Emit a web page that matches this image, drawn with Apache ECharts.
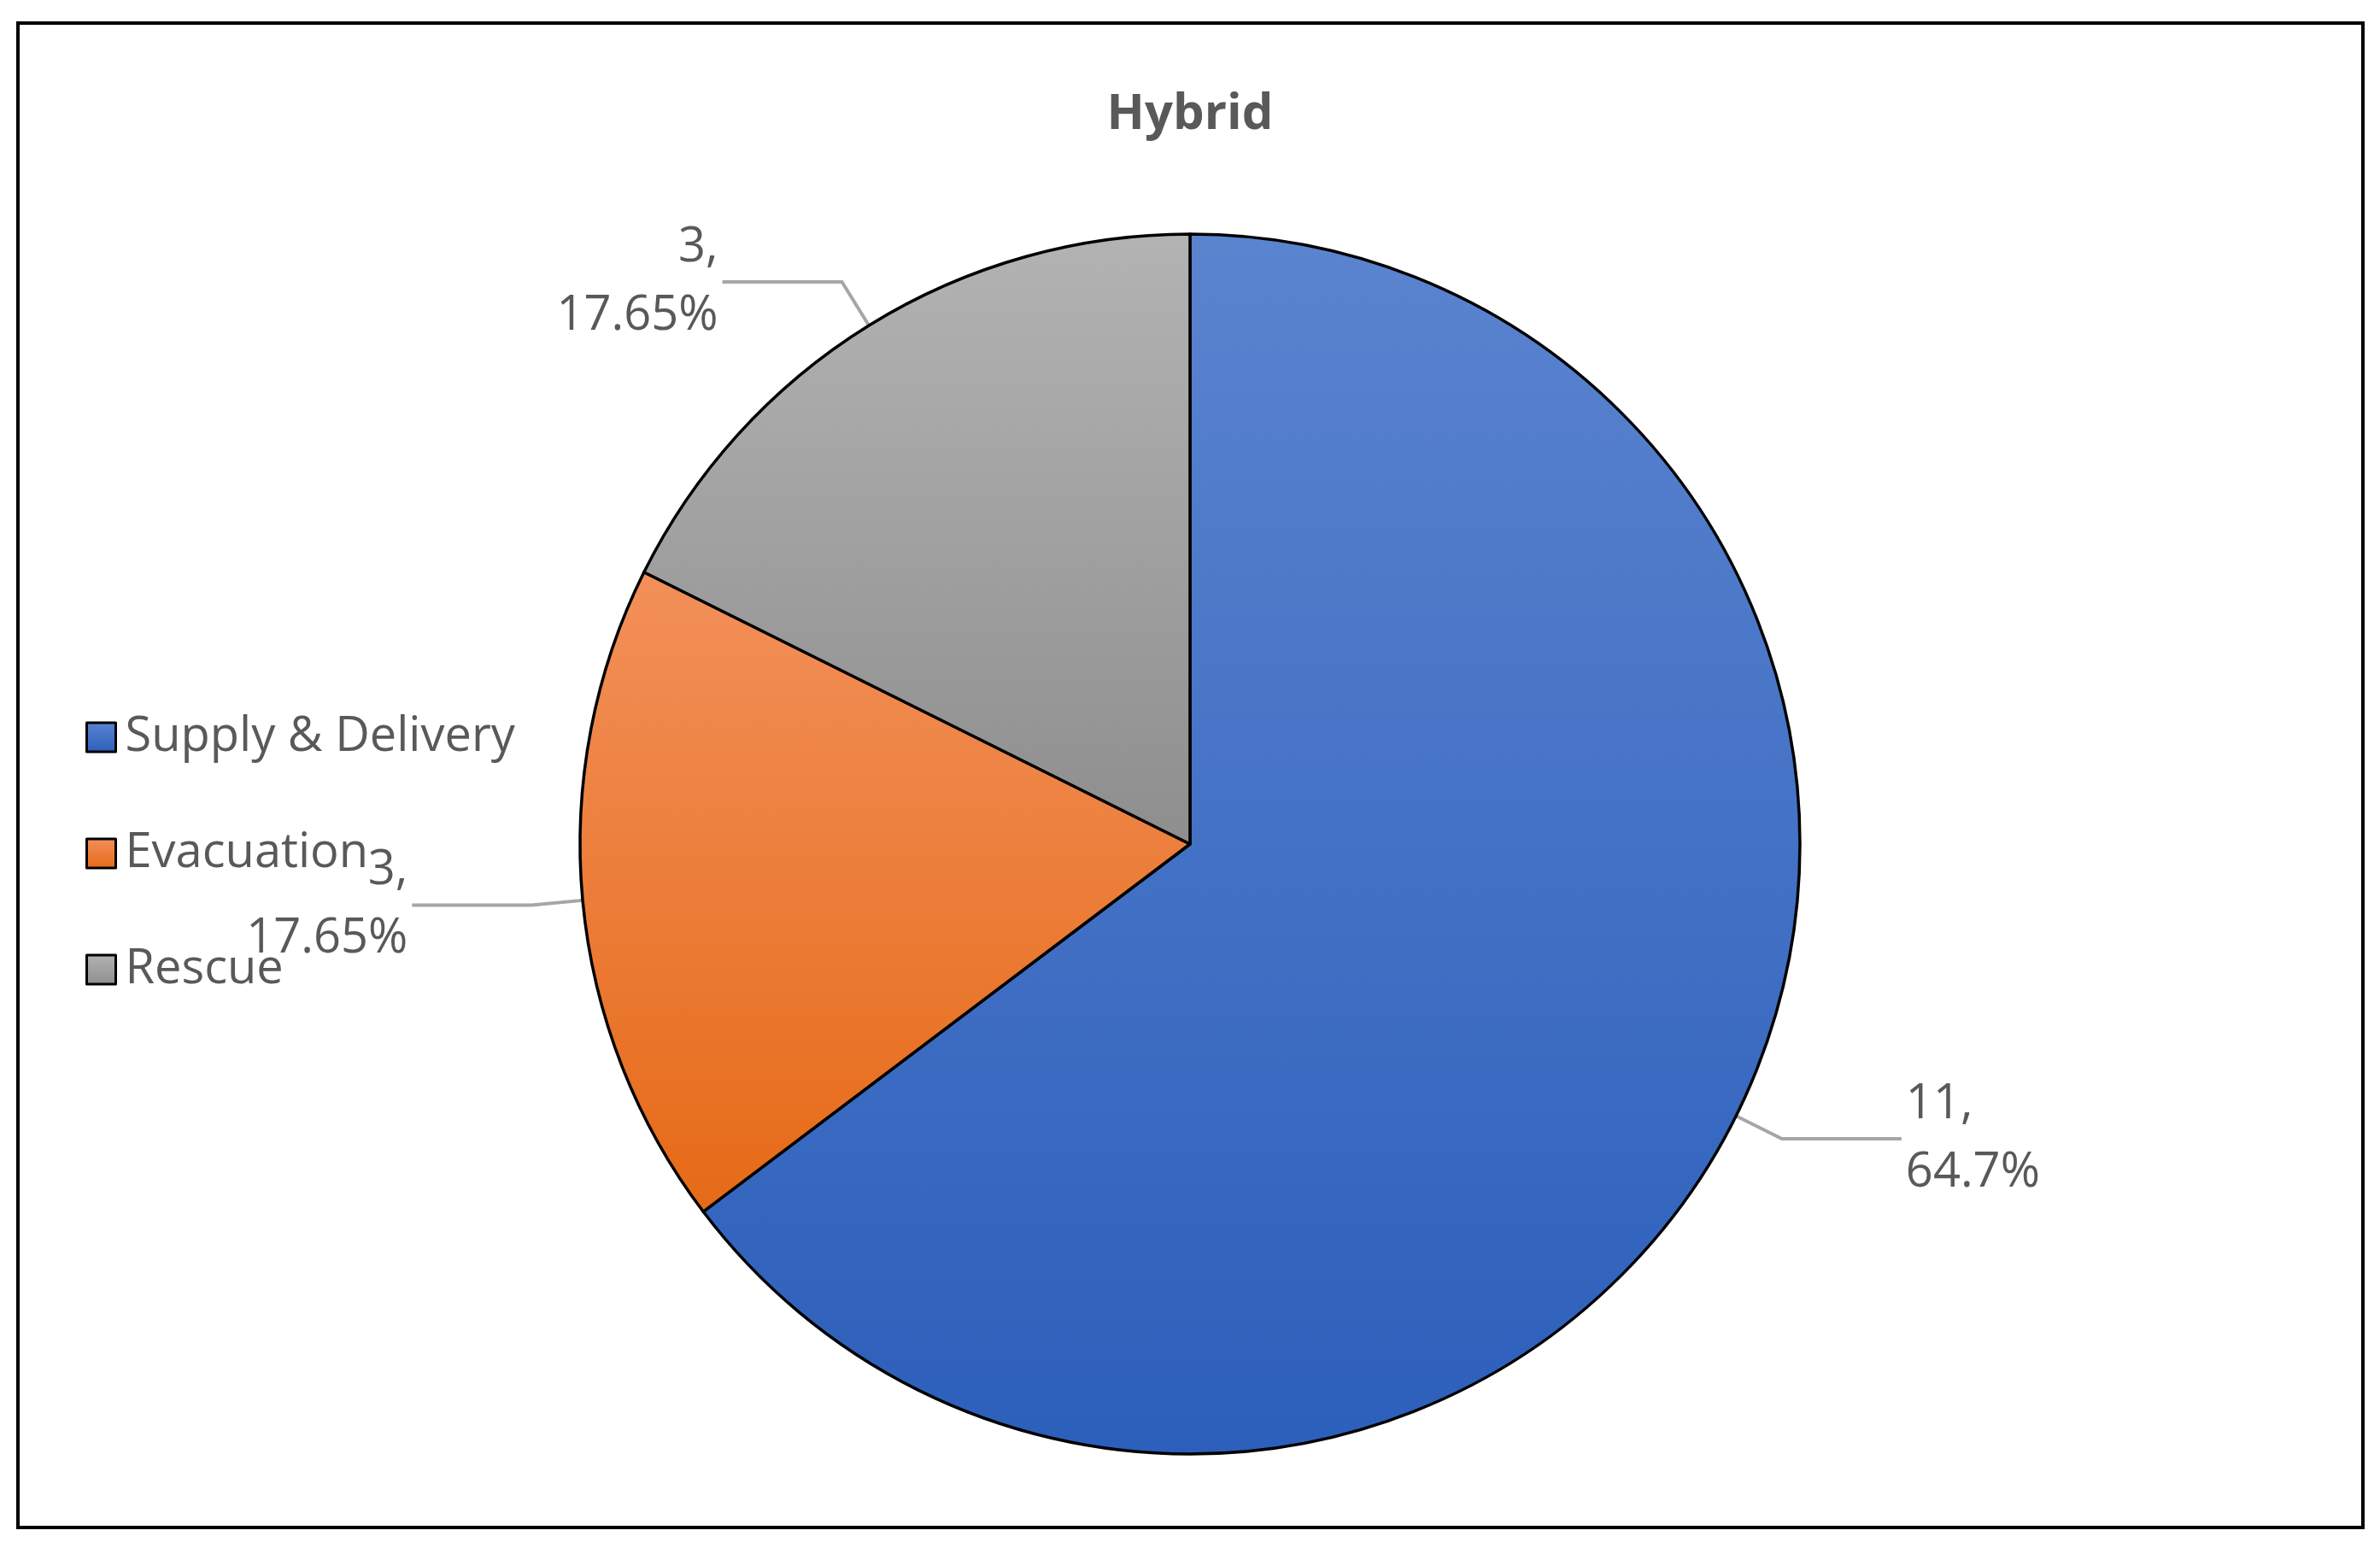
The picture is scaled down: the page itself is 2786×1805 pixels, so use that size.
<!DOCTYPE html>
<html>
<head>
<meta charset="utf-8">
<script src="https://cdn.jsdelivr.net/npm/echarts@6/dist/echarts.min.js"></script>
<style>html,body{margin:0;padding:0;background:#fff}#main{width:2786px;height:1805px}</style>
</head>
<body>
<div id="main"></div>
<script>
var categories = ['Supply & Delivery', 'Evacuation', 'Rescue'];
var values = [11, 3, 3];
var colorTop = ['#5b84cf', '#f2905a', '#b3b3b3'];
var colorBottom = ['#2c5fbb', '#e66a17', '#8e8e8e'];

var chart = echarts.init(document.getElementById('main'));
function grad(i) {
  return new echarts.graphic.LinearGradient(0, 0, 0, 1, [
    { offset: 0, color: colorTop[i] }, { offset: 1, color: colorBottom[i] }
  ]);
}
chart.setOption({
  animation: false,
  title: {
    text: 'Hybrid', left: 'center', top: 100,
    textStyle: { fontFamily: 'Open Sans', fontWeight: 'bold', fontSize: 58, color: '#595959' }
  },
  graphic: [{
    type: 'rect', shape: { x: 21, y: 27, width: 2745, height: 1761 },
    style: { fill: 'none', stroke: '#000', lineWidth: 4 }, silent: true
  }],
  legend: {
    orient: 'vertical', left: 95, top: 830, itemGap: 80,
    icon: 'rect', itemWidth: 34, itemHeight: 34,
    itemStyle: { borderColor: '#000', borderWidth: 3 },
    textStyle: { fontFamily: 'Open Sans', fontSize: 56, color: '#595959', padding: [0, 0, 0, 6] },
    data: categories
  },
  series: [{
    type: 'pie',
    center: [1393, 988],
    radius: 714,
    startAngle: 90,
    clockwise: true,
    data: categories.map(function (c, i) {
      return { name: c, value: values[i], itemStyle: { color: grad(i) } };
    }),
    itemStyle: { borderColor: '#000', borderWidth: 3.5 },
    label: {
      show: true, position: 'outside',
      formatter: '{c},\n{d}%',
      fontFamily: 'Open Sans', fontSize: 56, color: '#595959', lineHeight: 80
    },
    labelLine: { show: true, length: 60, length2: 140, lineStyle: { color: '#a6a6a6', width: 4 } }
  }]
});
</script>
</body>
</html>
